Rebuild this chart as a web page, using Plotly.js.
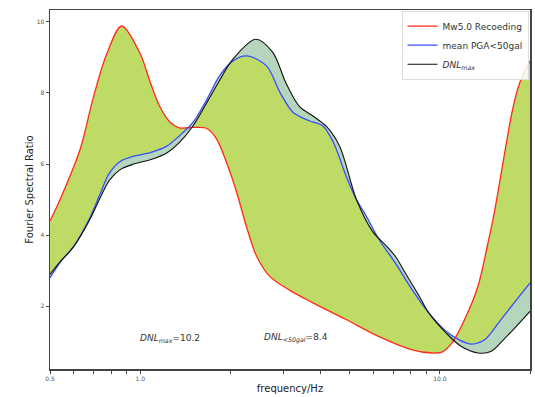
<!DOCTYPE html>
<html>
<head>
<meta charset="utf-8">
<script src="https://cdn.plot.ly/plotly-3.0.1.min.js"></script>
<style>html,body{margin:0;padding:0;background:#fff}#chart{width:535px;height:397px}</style>
</head>
<body>
<div id="chart"></div>
<script>
// Mw5.0 recording (red)
const redFreq = [0.5, 0.54, 0.63, 0.695, 0.773, 0.867, 1.0, 1.08, 1.16, 1.26, 1.35, 1.5, 1.67, 1.8, 1.95, 2.1, 2.27, 2.45, 2.7, 3.16, 3.77, 4.87, 6.27, 8.08, 9.4, 10.2, 11.0, 12.1, 13.4, 14.4, 15.2, 16.0, 17.5, 18.5, 20.0];
const redVals = [4.4, 5.0, 6.41, 7.82, 9.09, 9.88, 9.1, 8.3, 7.63, 7.17, 7.02, 7.03, 7.0, 6.7, 6.0, 5.2, 4.2, 3.4, 2.85, 2.45, 2.1, 1.63, 1.15, 0.78, 0.69, 0.72, 0.98, 1.63, 2.56, 3.69, 4.63, 5.7, 7.54, 8.29, 8.9];

// mean PGA<50gal (blue)
const blueFreq = [0.5, 0.54, 0.6, 0.68, 0.73, 0.79, 0.86, 0.95, 1.08, 1.23, 1.35, 1.5, 1.67, 1.84, 2.04, 2.27, 2.64, 2.93, 3.24, 3.68, 4.07, 4.42, 4.87, 5.27, 5.68, 6.27, 7.1, 8.08, 9.2, 10.5, 11.6, 12.8, 14.1, 16.0, 17.7, 20.0];
const blueVals = [2.8, 3.23, 3.69, 4.5, 5.1, 5.75, 6.08, 6.22, 6.32, 6.51, 6.79, 7.17, 7.82, 8.48, 8.9, 9.04, 8.76, 8.01, 7.45, 7.21, 7.07, 6.6, 5.66, 5.0, 4.54, 3.88, 3.22, 2.47, 1.81, 1.3, 1.06, 0.94, 1.06, 1.63, 2.1, 2.66];

// DNL_max (black)
const blackFreq = [0.5, 0.54, 0.6, 0.68, 0.73, 0.79, 0.86, 0.95, 1.08, 1.23, 1.35, 1.5, 1.67, 1.84, 2.04, 2.43, 2.77, 3.06, 3.39, 3.77, 4.17, 4.63, 5.27, 5.97, 6.59, 7.1, 7.67, 8.55, 9.2, 10.5, 11.8, 13.4, 14.8, 16.3, 18.0, 20.0];
const blackVals = [2.9, 3.25, 3.68, 4.45, 5.0, 5.55, 5.85, 6.0, 6.12, 6.32, 6.6, 7.07, 7.73, 8.35, 8.95, 9.51, 9.14, 8.29, 7.63, 7.35, 7.07, 6.5, 5.0, 4.1, 3.72, 3.41, 2.94, 2.28, 1.81, 1.25, 0.87, 0.69, 0.73, 1.06, 1.44, 1.86];

const seriesNames = ['Mw5.0 Recoeding', 'mean PGA<50gal', '<i>DNL</i><sub><i>max</i></sub>'];
const xTickVals = [0.5, 1, 10, 20];
const xTickText = ['0.5', '1.0', '10.0', '20.0'];
const xMinorVals = [0.6, 0.7, 0.8, 0.9, 2, 3, 4, 5, 6, 7, 8, 9];
const yTickVals = [2, 4, 6, 8, 10];
const annoTexts = ['<i>DNL</i><sub><i>max</i></sub>=10.2', '<i>DNL</i><sub><i>&lt;50gal</i></sub>=8.4'];
const annoX = [1.26, 3.3];
const annoY = [1.1, 1.1];

const sm = 0.9;
const traces = [
  {x: redFreq, y: redVals, mode: 'lines', line: {width: 0, shape: 'spline', smoothing: sm}, showlegend: false, hoverinfo: 'skip'},
  {x: blueFreq, y: blueVals, mode: 'lines', line: {width: 0, shape: 'spline', smoothing: sm}, fill: 'tonexty', fillcolor: '#bedb66', showlegend: false, hoverinfo: 'skip'},
  {x: blackFreq, y: blackVals, mode: 'lines', line: {width: 0, shape: 'spline', smoothing: sm}, fill: 'tonexty', fillcolor: '#b5d6bd', showlegend: false, hoverinfo: 'skip'},
  {x: redFreq, y: redVals, mode: 'lines', name: seriesNames[0], line: {color: '#ff2a1a', width: 1.3, shape: 'spline', smoothing: sm}},
  {x: blueFreq, y: blueVals, mode: 'lines', name: seriesNames[1], line: {color: '#3a4cff', width: 1.3, shape: 'spline', smoothing: sm}},
  {x: blackFreq, y: blackVals, mode: 'lines', name: seriesNames[2], line: {color: '#111111', width: 1.1, shape: 'spline', smoothing: sm}}
];

const layout = {
  width: 535, height: 397,
  margin: {l: 50, r: 5, t: 10, b: 28},
  paper_bgcolor: '#fff', plot_bgcolor: '#fff',
  font: {family: 'DejaVu Sans, sans-serif', color: '#222'},
  showlegend: true,
  legend: {x: 0.997, y: 0.998, xanchor: 'right', yanchor: 'top', traceorder: 'normal', bgcolor: 'rgba(255,255,255,0.85)', bordercolor: '#dddddd', borderwidth: 1, font: {size: 9, color: '#333'}, itemwidth: 30, tracegroupgap: 0},
  xaxis: {
    type: 'log', range: [Math.log10(0.5), Math.log10(20)],
    tickmode: 'array', tickvals: xTickVals, ticktext: xTickText,
    ticks: 'outside', ticklen: 3, tickcolor: '#444', tickwidth: 1,
    minor: {tickmode: 'array', tickvals: xMinorVals, ticks: 'outside', ticklen: 3, tickcolor: '#444', tickwidth: 1, showgrid: false},
    tickfont: {size: 6, color: '#555'},
    showgrid: false, zeroline: false, showline: true, linecolor: '#444', linewidth: 1.5, mirror: true,
    title: {text: 'frequency/Hz', font: {size: 10, color: '#222'}, standoff: 4}
  },
  yaxis: {
    range: [0.24, 10.33],
    tickmode: 'array', tickvals: yTickVals,
    ticks: 'outside', ticklen: 3, tickcolor: '#444', tickwidth: 1,
    tickfont: {size: 6, color: '#555'},
    showgrid: false, zeroline: false, showline: true, linecolor: '#444', linewidth: 1.5, mirror: true,
    title: {text: 'Fourier Spectral Ratio', font: {size: 10, color: '#222'}, standoff: 1}
  },
  annotations: annoTexts.map((t, i) => ({
    x: Math.log10(annoX[i]), y: annoY[i], xref: 'x', yref: 'y', text: t, showarrow: false,
    xanchor: 'center', font: {size: 9, color: '#333'}
  }))
};

Plotly.newPlot('chart', traces, layout, {staticPlot: true, displayModeBar: false});
</script>
</body>
</html>
